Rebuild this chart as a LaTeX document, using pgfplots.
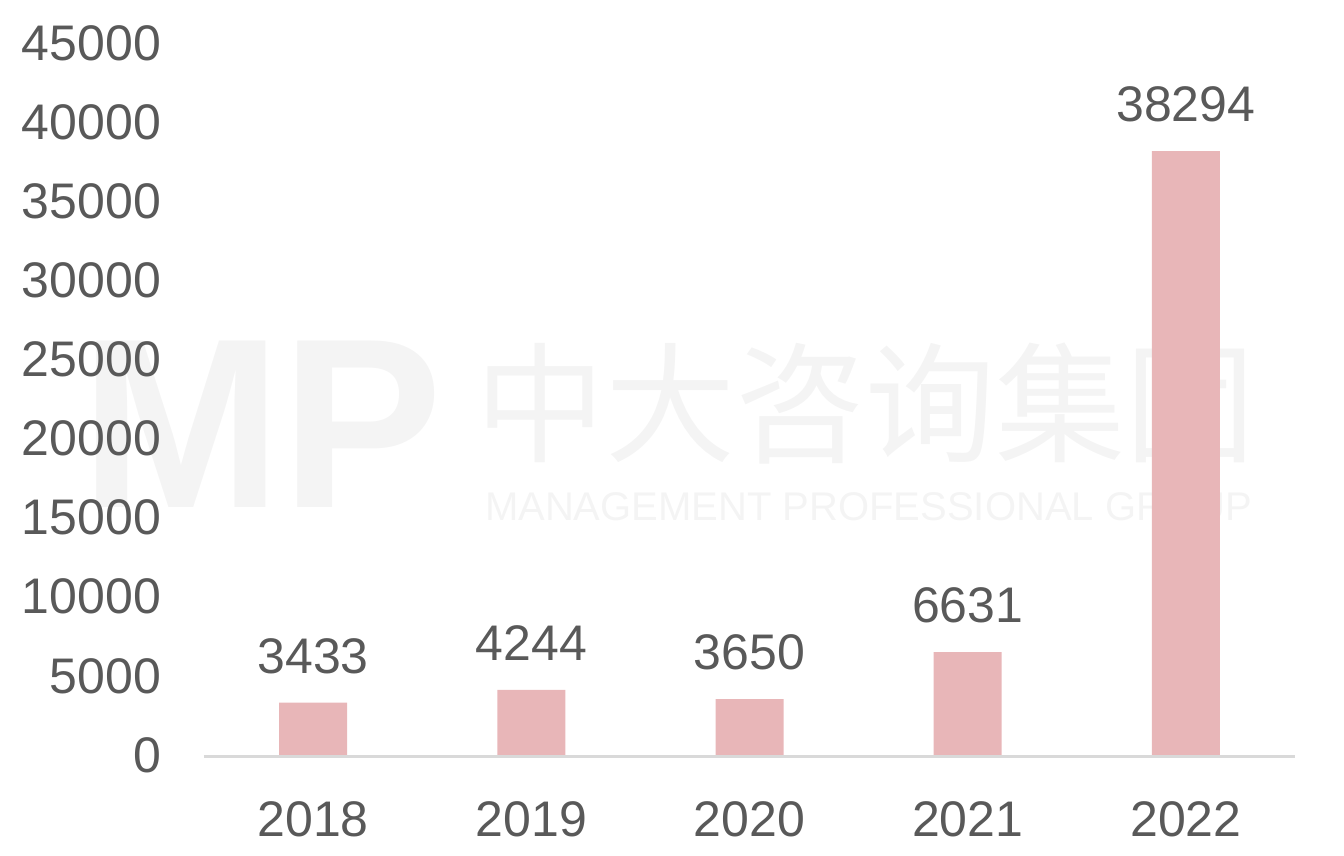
\documentclass[border=0pt]{standalone}
\usepackage{pgfplots}
\pgfplotsset{compat=1.18}
\usepackage{fontspec}
\setmainfont{Liberation Sans}
\newfontfamily\cjk{Noto Sans CJK SC}

\definecolor{txtgray}{HTML}{595959}
\definecolor{barpink}{HTML}{E8B6B8}
\definecolor{axgray}{HTML}{D9D9D9}
\definecolor{wmgray}{HTML}{F4F4F4}

\begin{document}
\begin{tikzpicture}
	\begin{axis}[
		set layers,
		scale only axis, width=545.5pt, height=356pt,
		clip=false,
		ymin=0, ymax=45000, ytick={0,5000,...,45000},
		scaled y ticks=false,
		xmin=-0.5, xmax=4.5,
		xtick=data, xticklabels={2018,2019,2020,2021,2022},
		axis line style={draw=none},
		axis x line*=bottom, axis y line*=left,
		major tick length=0pt,
		tick label style={font=\fontsize{25}{30}\selectfont, text=txtgray},
		yticklabel style={xshift=-18pt, yshift=1pt, /pgf/number format/fixed},
		xticklabel style={yshift=-19pt},
		/pgf/number format/1000 sep={},
		/pgf/number format/assume math mode=true,
		nodes near coords,
		nodes near coords style={font=\fontsize{25}{30}\selectfont, text=txtgray, yshift=11pt,
			/pgf/number format/1000 sep={}, /pgf/number format/assume math mode=true},
	]
		% watermark, behind everything
		\begin{pgfonlayer}{axis background}
		\node[text=wmgray, font=\fontsize{121}{121}\selectfont\bfseries] at (rel axis cs:0.053,0.468) {MP};
		\node[text=wmgray, font=\cjk\fontsize{65}{65}\selectfont] at (rel axis cs:0.606,0.497) {中大咨询集团};
		\node[text=wmgray, font=\fontsize{20}{20}\selectfont] at (rel axis cs:0.609,0.351) {MANAGEMENT PROFESSIONAL GROUP};
		\end{pgfonlayer}

		\addplot[ybar, bar width=34pt, fill=barpink, draw=none] coordinates {
			(0,3433) (1,4244) (2,3650) (3,6631) (4,38294)
		};
		\draw[axgray, line width=1.5pt] (rel axis cs:0,0) -- (rel axis cs:1,0);
		% page size of the reference
		\path (rel axis cs:0,0) ++(-102pt,-49.5pt) rectangle ++(672pt,428pt);
	\end{axis}
\end{tikzpicture}
\end{document}
